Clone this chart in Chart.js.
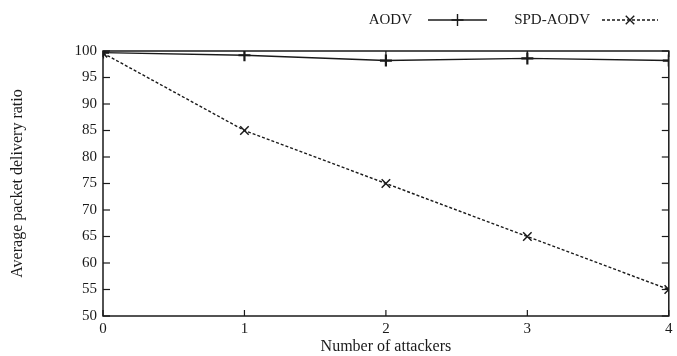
<!DOCTYPE html>
<html>
<head>
<meta charset="utf-8">
<script src="https://cdn.jsdelivr.net/npm/chart.js@4/dist/chart.umd.min.js"></script>
<style>
  html, body { margin: 0; background: #fff; }
  #wrap { width: 677px; height: 356px; }
</style>
</head>
<body>
<div id="wrap"><canvas id="chart"></canvas></div>
<script>
const attackers = [0, 1, 2, 3, 4];
const aodv = [99.7, 99.2, 98.2, 98.6, 98.2];
const spdAodv = [99.6, 85, 75, 65, 55];
const seriesNames = ["AODV", "SPD-AODV"];
const yTicks = [50, 55, 60, 65, 70, 75, 80, 85, 90, 95, 100];
const xTitle = "Number of attackers";
const yTitle = "Average packet delivery ratio";

const ink = "#1a1a1a";
const serif = "'Liberation Serif', 'DejaVu Serif', serif";

// gnuplot-like frame with inward ticks on all four sides, plus the key
const framePlugin = {
  id: "frame",
  afterDatasetsDraw(chart) {
    const { ctx, chartArea: a, scales } = chart;
    const line = (x1, y1, x2, y2) => {
      ctx.beginPath(); ctx.moveTo(x1, y1); ctx.lineTo(x2, y2); ctx.stroke();
    };
    ctx.save();
    ctx.strokeStyle = ink;
    ctx.lineWidth = 1.5;
    ctx.strokeRect(a.left, a.top, a.right - a.left, a.bottom - a.top);
    ctx.lineWidth = 1.2;
    scales.x.ticks.forEach(t => {
      const px = scales.x.getPixelForValue(t.value);
      line(px, a.bottom, px, a.bottom - 6);
      line(px, a.top, px, a.top + 6);
    });
    scales.y.ticks.forEach(t => {
      const py = scales.y.getPixelForValue(t.value);
      line(a.left, py, a.left + 7, py);
      line(a.right, py, a.right - 7, py);
    });

    // key: text first, then sample line with marker
    const keyY = 20;
    const items = [
      { ds: chart.data.datasets[0], textRight: 412, x1: 428, x2: 487 },
      { ds: chart.data.datasets[1], textRight: 590, x1: 602, x2: 658 }
    ];
    ctx.font = "15px " + serif;
    ctx.fillStyle = ink;
    ctx.textAlign = "right";
    ctx.textBaseline = "middle";
    items.forEach(it => {
      ctx.fillText(it.ds.label, it.textRight, keyY);
      ctx.lineWidth = it.ds.borderWidth;
      ctx.setLineDash(it.ds.borderDash || []);
      line(it.x1, keyY, it.x2, keyY);
      ctx.setLineDash([]);
      Chart.helpers.drawPoint(ctx, {
        pointStyle: it.ds.pointStyle,
        radius: it.ds.pointRadius,
        rotation: 0,
        borderWidth: it.ds.pointBorderWidth
      }, (it.x1 + it.x2) / 2, keyY);
    });
    ctx.restore();
  }
};

new Chart(document.getElementById("chart"), {
  type: "line",
  data: {
    datasets: [
      {
        label: seriesNames[0],
        data: attackers.map((a, i) => ({ x: a, y: aodv[i] })),
        borderColor: ink,
        backgroundColor: ink,
        borderWidth: 1.4,
        pointStyle: "cross",
        pointRadius: 6,
        pointBorderWidth: 2.2,
        pointBorderColor: ink,
        tension: 0
      },
      {
        label: seriesNames[1],
        data: attackers.map((a, i) => ({ x: a, y: spdAodv[i] })),
        borderColor: ink,
        backgroundColor: ink,
        borderWidth: 1.4,
        borderDash: [3, 2],
        pointStyle: "crossRot",
        pointRadius: 6,
        pointBorderWidth: 1.5,
        pointBorderColor: ink,
        tension: 0
      }
    ]
  },
  options: {
    responsive: true,
    maintainAspectRatio: false,
    animation: false,
    layout: { padding: { top: 51, right: 4, left: 8, bottom: 0 } },
    plugins: {
      legend: { display: false },
      tooltip: { enabled: false }
    },
    scales: {
      x: {
        type: "linear",
        min: 0,
        max: 4,
        grid: { display: false, drawTicks: false },
        border: { display: false },
        ticks: {
          stepSize: 1,
          padding: 4,
          color: ink,
          font: { family: serif, size: 15 }
        },
        title: {
          display: true,
          text: xTitle,
          color: ink,
          padding: { top: 0, bottom: 0 },
          font: { family: serif, size: 16 }
        },
        afterFit(scale) { scale.height = 40; }
      },
      y: {
        min: 50,
        max: 100,
        grid: { display: false, drawTicks: false },
        border: { display: false },
        afterBuildTicks(scale) { scale.ticks = yTicks.map(v => ({ value: v })); },
        ticks: {
          padding: 6,
          color: ink,
          font: { family: serif, size: 15 }
        },
        title: {
          display: true,
          text: yTitle,
          color: ink,
          padding: { top: 0, bottom: 4 },
          font: { family: serif, size: 16 }
        },
        afterFit(scale) { scale.width = 95; }
      }
    }
  },
  plugins: [framePlugin]
});
</script>
</body>
</html>
